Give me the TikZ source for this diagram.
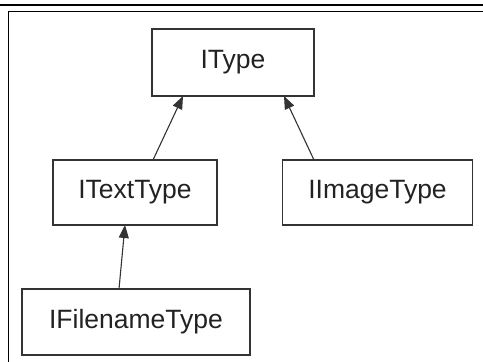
\documentclass[tikz,border=0pt]{standalone}
\usepackage{fontspec}
\setmainfont{Liberation Sans}
\usetikzlibrary{arrows.meta}
\definecolor{boxline}{HTML}{333333}
\definecolor{txt}{HTML}{222222}
\begin{document}
\begin{tikzpicture}[x=1pt,y=-1pt,
  typebox/.style={draw=boxline,line width=1.4pt,fill=white,text=txt,font=\fontsize{26.5}{30}\selectfont},
  inherit/.style={draw=boxline,line width=1.1pt,-{Triangle[length=13pt,width=10pt]}}]
\useasboundingbox (0,0) rectangle (483,362);
\fill[white] (0,0) rectangle (483,362);
\coordinate (tl) at (0,5);
\coordinate (tr) at (483,5);
\coordinate (fl) at (8.5,11.5);
\coordinate (fr) at (483,11.5);
\coordinate (fb) at (8.5,362);
\draw[line width=1.6pt] (tl) -- (tr);
\draw[line width=1.6pt] (fr) -- (fl) -- (fb);
\node[typebox,minimum width=162pt,minimum height=67pt] (itype) at (233,62.5) {IType};
\node[typebox,minimum width=164pt,minimum height=65pt] (itext) at (135,192.5) {ITextType};
\node[typebox,minimum width=190pt,minimum height=65pt] (iimage) at (377.5,192.5) {IImageType};
\node[typebox,minimum width=228pt,minimum height=66pt] (ifile) at (136,322) {IFilenameType};
\coordinate (a1s) at (153,160);
\coordinate (a1e) at (183,96);
\coordinate (a2s) at (314,160);
\coordinate (a2e) at (284,96);
\coordinate (a3s) at (119,289);
\coordinate (a3e) at (125,225);
\draw[inherit] (a1s) -- (a1e);
\draw[inherit] (a2s) -- (a2e);
\draw[inherit] (a3s) -- (a3e);
\end{tikzpicture}
\end{document}
